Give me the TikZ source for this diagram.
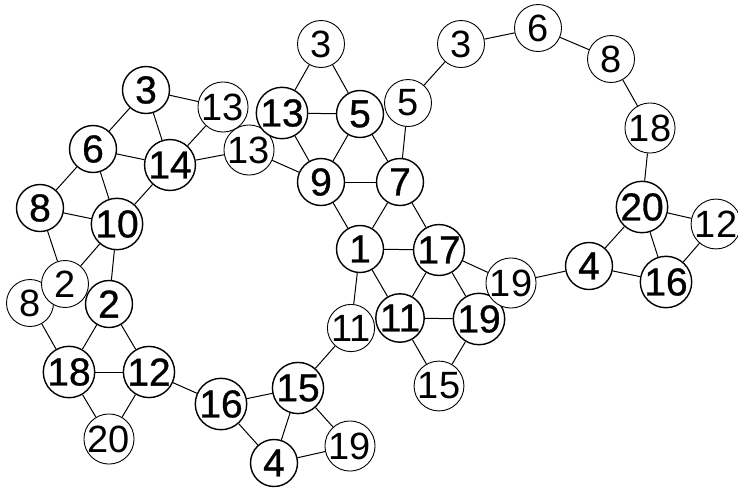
\documentclass[tikz,border=0pt]{standalone}
\usepackage{fontspec}
\setmainfont{Liberation Sans}
\newfontfamily\hubfont{Liberation Sans}[FakeBold=0.8]
\usetikzlibrary{positioning}

\begin{document}
\begin{tikzpicture}[
        x=1pt, y=-1pt,
        hub/.style={circle, draw=black, line width=1.4pt, fill=white, inner sep=0pt, minimum size=47pt, font=\hubfont\fontsize{39}{39}\selectfont},
        leaf/.style={circle, draw=black, line width=0.9pt, fill=white, inner sep=0pt, minimum size=47pt, font=\fontsize{38}{38}\selectfont},
        line/.style={draw, line width=1pt}
    ]
    \useasboundingbox (0,0) rectangle (738,488);

    % --- 1. LEFT RING ---
    \node[hub] (a3) at (146, 90) {3};
    \node[leaf] (a13) at (223, 107) {13};
    \node[leaf] (b13) at (249, 150) {13};
    \node[hub] (a6) at (93, 149) {6};
    \node[hub] (a14) at (170, 165) {14};
    \node[hub] (a8) at (40, 208) {8};
    \node[hub] (a10) at (117, 224) {10};
    \node[leaf] (b8) at (30, 303) {8};
    \node[leaf] (a2) at (65, 284) {2};
    \node[hub] (b2) at (109, 304) {2};
    \node[hub] (a18) at (69, 372) {18};
    \node[hub] (a12) at (149, 372) {12};
    \node[leaf] (a20) at (109, 439) {20};
    \node[hub] (a16) at (221, 404) {16};
    \node[hub] (a15) at (298, 388) {15};
    \node[hub] (a4) at (274, 463) {4};
    \node[leaf] (a19) at (350, 446) {19};
    \node[leaf] (a11) at (351, 328) {11};

    % --- 2. MIDDLE ---
    \node[leaf] (c3) at (321, 44) {3};
    \node[hub] (c13) at (282, 113) {13};
    \node[hub] (c5) at (360, 114) {5};
    \node[leaf] (d5) at (408, 103) {5};
    \node[leaf] (d3) at (461, 44) {3};
    \node[hub] (c9) at (321, 182) {9};
    \node[hub] (c7) at (400, 182) {7};
    \node[hub] (c1) at (360, 249) {1};
    \node[hub] (c17) at (439, 250) {17};
    \node[hub] (c11) at (400, 318) {11};
    \node[hub] (c19) at (479, 319) {19};
    \node[leaf] (c15) at (439, 386) {15};
    \node[leaf] (d19) at (511, 283) {19};

    % --- 3. RIGHT RING ---
    \node[leaf] (e6) at (538, 28) {6};
    \node[leaf] (e8) at (611, 59) {8};
    \node[leaf] (e18) at (650, 128) {18};
    \node[hub] (e20) at (642, 207) {20};
    \node[leaf] (e12) at (716, 224) {12};
    \node[hub] (e4) at (589, 266) {4};
    \node[hub] (e16) at (666, 282) {16};

    % --- 4. EDGES ---
    \draw[line] (a3) -- (a13); \draw[line] (a3) -- (a6); \draw[line] (a3) -- (a14);
    \draw[line] (a13) -- (a14); \draw[line] (a6) -- (a14); \draw[line] (a6) -- (a10);
    \draw[line] (a6) -- (a8); \draw[line] (a14) -- (a10); \draw[line] (a14) -- (b13);
    \draw[line] (a8) -- (a10); \draw[line] (a8) -- (a2); \draw[line] (a10) -- (a2);
    \draw[line] (a10) -- (b2); \draw[line] (a2) -- (b2);
    \draw[line] (b8) -- (a18); \draw[line] (b2) -- (a18); \draw[line] (b2) -- (a12);
    \draw[line] (a18) -- (a12); \draw[line] (a18) -- (a20); \draw[line] (a12) -- (a20);
    \draw[line] (a12) -- (a16); \draw[line] (a16) -- (a15); \draw[line] (a16) -- (a4);
    \draw[line] (a15) -- (a4); \draw[line] (a15) -- (a19); \draw[line] (a4) -- (a19);
    \draw[line] (a15) -- (a11); \draw[line] (a11) -- (c1);

    \draw[line] (b13) -- (c9); \draw[line] (c13) -- (c3); \draw[line] (c3) -- (c5);
    \draw[line] (c13) -- (c5); \draw[line] (c13) -- (c9); \draw[line] (c5) -- (c9);
    \draw[line] (c5) -- (c7); \draw[line] (c9) -- (c7); \draw[line] (d5) -- (c7);
    \draw[line] (d5) -- (d3); \draw[line] (c9) -- (c1); \draw[line] (c7) -- (c1);
    \draw[line] (c7) -- (c17); \draw[line] (c1) -- (c17); \draw[line] (c1) -- (c11);
    \draw[line] (c17) -- (c11); \draw[line] (c17) -- (c19); \draw[line] (c11) -- (c19);
    \draw[line] (c11) -- (c15); \draw[line] (c19) -- (c15); \draw[line] (c17) -- (d19);
    \draw[line] (d19) -- (e4);

    \draw[line] (d3) -- (e6); \draw[line] (e6) -- (e8); \draw[line] (e8) -- (e18);
    \draw[line] (e18) -- (e20); \draw[line] (e20) -- (e12); \draw[line] (e20) -- (e16);
    \draw[line] (e20) -- (e4); \draw[line] (e12) -- (e16); \draw[line] (e4) -- (e16);

\end{tikzpicture}
\end{document}
